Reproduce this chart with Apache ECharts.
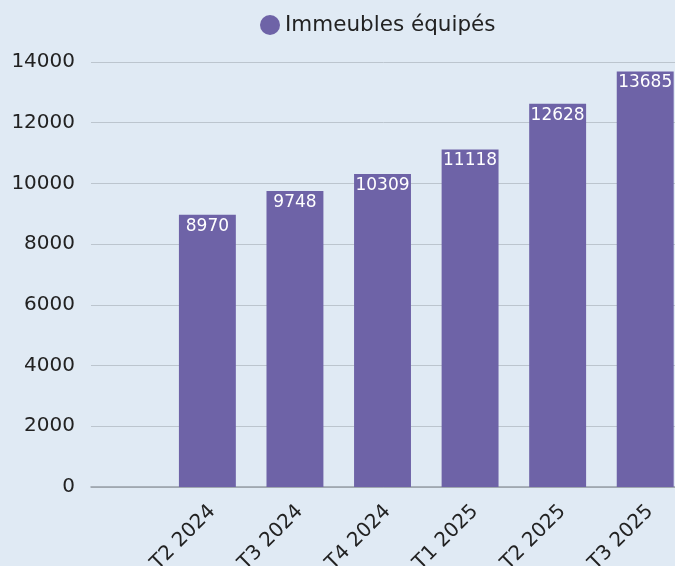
<!DOCTYPE html>
<html>
<head>
<meta charset="utf-8">
<script src="https://cdn.jsdelivr.net/npm/echarts@6/dist/echarts.min.js"></script>
<style>
  html, body { margin: 0; padding: 0; background: #e0eaf4; }
  #main { width: 675px; height: 566px; }
</style>
</head>
<body>
<div id="main"></div>
<script>
var categories = ['T2 2024', 'T3 2024', 'T4 2024', 'T1 2025', 'T2 2025', 'T3 2025'];
var buildings = [8970, 9748, 10309, 11118, 12628, 13685];
var seriesName = 'Immeubles équipés';
var yMax = 14000;
var yStep = 2000;

var font = 'DejaVu Sans';
var chart = echarts.init(document.getElementById('main'));

chart.setOption({
    backgroundColor: '#e0eaf4',
    textStyle: { fontFamily: font },
    legend: {
        left: 255,
        top: 9,
        icon: 'circle',
        itemWidth: 20,
        itemHeight: 20,
        itemGap: 8,
        textStyle: { fontSize: 21.5, color: '#222', fontFamily: font },
        data: [seriesName]
    },
    // grid 0 : y axis + base line, grid 1 : the bars (plot runs past the right edge)
    grid: [
        { left: 91, width: 598, top: 62, bottom: 79, outerBoundsMode: 'none' },
        { left: 163.6, width: 525.4, top: 62, bottom: 79, outerBoundsMode: 'none' }
    ],
    xAxis: [
        {
            gridIndex: 0,
            type: 'category',
            data: [''],
            axisLine: { show: true, lineStyle: { color: '#969ea7', width: 1.5 } },
            axisTick: { show: false },
            axisLabel: { show: false }
        },
        {
            gridIndex: 1,
            type: 'category',
            data: categories,
            axisLine: { show: false },
            axisTick: { show: false },
            axisLabel: {
                rotate: 45,
                margin: 8,
                fontSize: 20,
                lineHeight: 20,
                verticalAlign: 'top',
                padding: [3, 6, 0, 0],
                color: '#222',
                fontFamily: font
            }
        }
    ],
    yAxis: [
        {
            gridIndex: 0,
            type: 'value',
            min: 0,
            max: yMax,
            interval: yStep,
            axisLine: { show: false },
            axisTick: { show: false },
            axisLabel: {
                margin: 16,
                fontSize: 20,
                color: '#222',
                fontFamily: font,
                formatter: function (v) { return String(v); }
            },
            splitLine: { lineStyle: { color: '#bcc5ce', width: 1 } }
        },
        {
            gridIndex: 1,
            type: 'value',
            min: 0,
            max: yMax,
            interval: yStep,
            show: false,
            splitLine: { show: false }
        }
    ],
    series: [{
        name: seriesName,
        type: 'bar',
        xAxisIndex: 1,
        yAxisIndex: 1,
        data: buildings,
        barWidth: '65%',
        itemStyle: { color: '#6e63a7' },
        label: {
            show: true,
            position: 'insideTop',
            distance: 3,
            color: '#fff',
            fontSize: 17,
            fontFamily: font
        }
    }]
});
</script>
</body>
</html>
